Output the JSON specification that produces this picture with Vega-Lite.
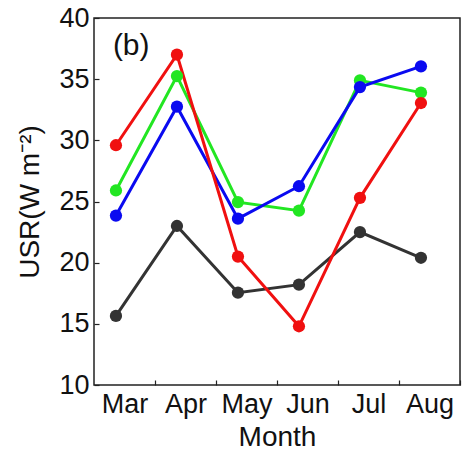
{
  "$schema": "https://vega.github.io/schema/vega-lite/v6.json",
  "width": 366,
  "height": 367,
  "autosize": "none",
  "padding": {"left": 94, "top": 18, "right": 2, "bottom": 76},
  "background": "white",
  "config": {
    "view": {"stroke": "#222222", "strokeWidth": 1.5},
    "font": "Liberation Sans"
  },
  "data": {
    "values": [
      {"series": "s1", "month": "Mar", "m": 1, "v": 15.65},
      {"series": "s1", "month": "Apr", "m": 2, "v": 23.0},
      {"series": "s1", "month": "May", "m": 3, "v": 17.55},
      {"series": "s1", "month": "Jun", "m": 4, "v": 18.2},
      {"series": "s1", "month": "Jul", "m": 5, "v": 22.5},
      {"series": "s1", "month": "Aug", "m": 6, "v": 20.4},
      {"series": "s2", "month": "Mar", "m": 1, "v": 25.9},
      {"series": "s2", "month": "Apr", "m": 2, "v": 35.25},
      {"series": "s2", "month": "May", "m": 3, "v": 24.95},
      {"series": "s2", "month": "Jun", "m": 4, "v": 24.25},
      {"series": "s2", "month": "Jul", "m": 5, "v": 34.9},
      {"series": "s2", "month": "Aug", "m": 6, "v": 33.9},
      {"series": "s3", "month": "Mar", "m": 1, "v": 23.85},
      {"series": "s3", "month": "Apr", "m": 2, "v": 32.75},
      {"series": "s3", "month": "May", "m": 3, "v": 23.6},
      {"series": "s3", "month": "Jun", "m": 4, "v": 26.25},
      {"series": "s3", "month": "Jul", "m": 5, "v": 34.35},
      {"series": "s3", "month": "Aug", "m": 6, "v": 36.05},
      {"series": "s4", "month": "Mar", "m": 1, "v": 29.6},
      {"series": "s4", "month": "Apr", "m": 2, "v": 37.0},
      {"series": "s4", "month": "May", "m": 3, "v": 20.5},
      {"series": "s4", "month": "Jun", "m": 4, "v": 14.8},
      {"series": "s4", "month": "Jul", "m": 5, "v": 25.3},
      {"series": "s4", "month": "Aug", "m": 6, "v": 33.05}
    ]
  },
  "layer": [
    {
      "encoding": {
        "x": {
          "field": "m",
          "type": "quantitative",
          "scale": {"domain": [0.64, 6.64], "nice": false, "zero": false},
          "axis": {
            "title": "Month",
            "values": [1.64, 2.64, 3.64, 4.64, 5.64, 6.64],
            "labelExpr": "['','Mar','Apr','May','Jun','Jul','Aug'][round(datum.value - 0.64)]",
            "labelOffset": -30.5,
            "tickSize": -5,
            "tickColor": "#222222",
            "tickWidth": 1.2,
            "domain": false,
            "grid": false,
            "labelFontSize": 27,
            "labelColor": "#111111",
            "labelPadding": 11,
            "labelFlush": false,
            "labelOverlap": false,
            "labelBound": false,
            "titleFontSize": 28,
            "titleFontWeight": "normal",
            "titleColor": "#111111",
            "titlePadding": 6
          }
        },
        "y": {
          "field": "v",
          "type": "quantitative",
          "scale": {"domain": [10, 40], "nice": false, "zero": false},
          "axis": {
            "title": "USR(W m⁻²)",
            "values": [10, 15, 20, 25, 30, 35, 40],
            "tickSize": -5,
            "tickColor": "#222222",
            "tickWidth": 1.2,
            "domain": false,
            "grid": false,
            "labelFontSize": 27,
            "labelColor": "#111111",
            "labelPadding": 10,
            "labelFlush": false,
            "labelOverlap": false,
            "labelBound": false,
            "titleFontSize": 28,
            "titleFontWeight": "normal",
            "titleColor": "#111111",
            "titlePadding": 14
          }
        },
        "color": {
          "field": "series",
          "type": "nominal",
          "scale": {"domain": ["s1", "s2", "s3", "s4"], "range": ["#333333", "#22e622", "#0a0af0", "#f01010"]},
          "legend": null
        }
      },
      "layer": [
        {"mark": {"type": "line", "strokeWidth": 3}},
        {"mark": {"type": "circle", "size": 150, "opacity": 1}}
      ]
    },
    {
      "data": {"values": [{"t": "(b)"}]},
      "mark": {"type": "text", "fontSize": 30, "color": "#111111", "align": "center", "baseline": "middle"},
      "encoding": {
        "x": {"datum": 1.25, "type": "quantitative"},
        "y": {"datum": 37.7, "type": "quantitative"},
        "text": {"field": "t"}
      }
    }
  ]
}
